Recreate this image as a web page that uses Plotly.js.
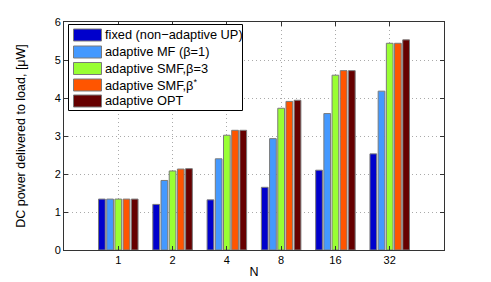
<!DOCTYPE html>
<html><head><meta charset="utf-8">
<script src="https://cdn.plot.ly/plotly-3.0.1.min.js"></script>
<style>html,body{margin:0;padding:0;background:#fff}#chart{width:491px;height:282px}</style>
</head><body><div id="chart"></div>
<script>
const categories = ["1", "2", "4", "8", "16", "32"];
const seriesNames = ["fixed (non\u2212adaptive UP)", "adaptive MF (\u03b2=1)", "adaptive SMF,\u03b2=3", "adaptive SMF,\u03b2<sup>*</sup>", "adaptive OPT"];
const fixedUP = [1.34, 1.20, 1.32, 1.65, 2.10, 2.53];
const adaptiveMF = [1.34, 1.83, 2.40, 2.93, 3.59, 4.18];
const adaptiveSMF3 = [1.34, 2.08, 3.02, 3.73, 4.60, 5.44];
const adaptiveSMFstar = [1.34, 2.13, 3.15, 3.91, 4.72, 5.44];
const adaptiveOPT = [1.34, 2.14, 3.15, 3.94, 4.72, 5.53];
const colors = ["#0000cc", "#4499ff", "#99ff33", "#ff5500", "#660000"];
const yTicks = [0, 1, 2, 3, 4, 5, 6];

const W = 491, H = 282, M = {l: 64, r: 47, t: 22, b: 32};
const pw = W - M.l - M.r, ph = H - M.t - M.b;
const px = x => (x - M.l) / pw;          // pixel -> paper x
const py = y => (H - M.b - y) / ph;      // pixel -> paper y

const allSeries = [fixedUP, adaptiveMF, adaptiveSMF3, adaptiveSMFstar, adaptiveOPT];
const traces = allSeries.map((vals, i) => ({
  type: "bar", x: categories, y: vals, name: seriesNames[i], showlegend: false,
  marker: {color: colors[i], line: {color: "#7a7a7a", width: 1}}
}));

// custom legend box (MATLAB style)
const shapes = [{type: "rect", xref: "paper", yref: "paper", x0: px(68.5), x1: px(242.5), y0: py(110.5), y1: py(24.5),
                 fillcolor: "#fff", line: {color: "#000", width: 1}, layer: "above"}];
const annotations = [];
const rowY = [35, 52, 68.5, 85, 101];
seriesNames.forEach((nm, i) => {
  shapes.push({type: "rect", xref: "paper", yref: "paper", x0: px(73.5), x1: px(101.5),
               y0: py(rowY[i] + 6), y1: py(rowY[i] - 6), fillcolor: colors[i],
               line: {color: "#7a7a7a", width: 1}, layer: "above"});
  annotations.push({xref: "paper", yref: "paper", x: px(102.5), y: py(rowY[i]), xanchor: "left", yanchor: "middle",
                    text: nm, showarrow: false, font: {size: 12.8}});
});

const font = {family: "Liberation Sans, Arial, sans-serif", size: 11, color: "#000"};
const layout = {
  width: W, height: H, margin: M,
  paper_bgcolor: "#fff", plot_bgcolor: "#fff", font: font,
  barmode: "group", bargap: 0.245, bargroupgap: 0.18,
  showlegend: false, shapes: shapes, annotations: annotations,
  xaxis: {type: "category", range: [-1, 6], showline: true, linecolor: "#333", mirror: "ticks",
          ticks: "inside", ticklen: 4, tickcolor: "#333",
          showgrid: true, gridcolor: "#aaaaaa", griddash: "1px,3px", gridwidth: 1,
          title: {text: "N", font: {size: 12.5}, standoff: 2}, tickfont: {size: 11}},
  yaxis: {range: [0, 6], tickvals: yTicks, showline: true, linecolor: "#333", mirror: "ticks",
          ticks: "inside", ticklen: 4, tickcolor: "#333",
          showgrid: true, gridcolor: "#aaaaaa", griddash: "1px,3px", gridwidth: 1, zeroline: false,
          title: {text: "DC power delivered to load, [\u03bcW]", font: {size: 12.5}, standoff: 26},
          tickfont: {size: 11}}
};
Plotly.newPlot("chart", traces, layout, {staticPlot: true, displayModeBar: false});
</script></body></html>
